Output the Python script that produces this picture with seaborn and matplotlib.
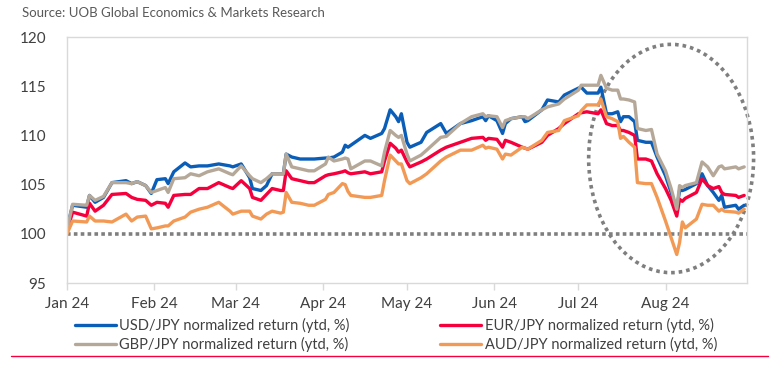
import numpy as np
import pandas as pd
import seaborn as sns
import matplotlib
matplotlib.use("Agg")
import matplotlib.pyplot as plt
import matplotlib.dates as mdates
from matplotlib.patches import Ellipse
from matplotlib.lines import Line2D

# values (normalized, start of year = 100)
dates = [
    "2024-01-01", "2024-01-03", "2024-01-08", "2024-01-09", "2024-01-11", "2024-01-14",
    "2024-01-17", "2024-01-22", "2024-01-24", "2024-01-26", "2024-01-29", "2024-01-31",
    "2024-02-02", "2024-02-05", "2024-02-06", "2024-02-08", "2024-02-12", "2024-02-14",
    "2024-02-17", "2024-02-20", "2024-02-24", "2024-02-28", "2024-02-29",
    "2024-03-03", "2024-03-06", "2024-03-07", "2024-03-10", "2024-03-12", "2024-03-14",
    "2024-03-17", "2024-03-18", "2024-03-19", "2024-03-21", "2024-03-24", "2024-03-27",
    "2024-03-29",
    "2024-04-02", "2024-04-03", "2024-04-05", "2024-04-08", "2024-04-09", "2024-04-10",
    "2024-04-11", "2024-04-16", "2024-04-18", "2024-04-22", "2024-04-23", "2024-04-25",
    "2024-04-27", "2024-04-28", "2024-04-29",
    "2024-05-01", "2024-05-02", "2024-05-06", "2024-05-08", "2024-05-13", "2024-05-15",
    "2024-05-20", "2024-05-24", "2024-05-28", "2024-05-29", "2024-05-30",
    "2024-06-02", "2024-06-04", "2024-06-05", "2024-06-07", "2024-06-11", "2024-06-12",
    "2024-06-13", "2024-06-18", "2024-06-20", "2024-06-24", "2024-06-26",
    "2024-07-01", "2024-07-02", "2024-07-04", "2024-07-08", "2024-07-09", "2024-07-11",
    "2024-07-13", "2024-07-15", "2024-07-16", "2024-07-17", "2024-07-19", "2024-07-21",
    "2024-07-22", "2024-07-25", "2024-07-27", "2024-07-29",
    "2024-08-01", "2024-08-03", "2024-08-05", "2024-08-06", "2024-08-07", "2024-08-08",
    "2024-08-12", "2024-08-14", "2024-08-16", "2024-08-18", "2024-08-20", "2024-08-21",
    "2024-08-22", "2024-08-26", "2024-08-27", "2024-08-29",
]

usd = [
    100.6, 102.9, 102.7, 103.9, 103.2, 103.7, 105.2, 105.4, 105.1, 105.3, 104.9, 104.1,
    105.5, 105.6, 105.1, 106.3, 107.2, 106.8, 106.9, 106.9, 107.1, 106.9, 106.8,
    107.1, 105.7, 104.6, 104.4, 104.9, 106.1, 106.1, 106.1, 108.1, 107.8, 107.6, 107.6,
    107.6,
    107.7, 107.7, 107.8, 108.3, 109.0, 108.8, 109.0, 110.0, 109.7, 110.2, 110.7, 112.6,
    111.9, 111.4, 112.2,
    109.3, 108.8, 109.3, 110.3, 111.2, 110.2, 111.2, 111.5, 111.9, 111.5, 112.0,
    111.5, 110.2, 111.2, 111.7, 111.9, 111.4, 111.5, 112.6, 113.6, 113.4, 114.1,
    114.8, 114.9, 114.3, 114.3, 114.9, 112.2, 112.2, 112.4, 111.4, 111.9, 111.9, 111.4,
    109.5, 109.3, 109.3, 107.8,
    105.9, 104.2, 102.5, 104.4, 104.4, 104.5, 105.1, 106.1, 104.9, 104.2, 103.4, 103.9,
    102.7, 102.9, 102.5, 102.9,
]

eur = [
    100.3, 102.2, 101.8, 103.1, 102.3, 102.9, 104.0, 104.1, 103.7, 103.5, 103.4, 102.9,
    103.2, 103.1, 102.7, 103.9, 104.0, 104.0, 104.6, 104.6, 105.2, 104.7, 104.6,
    105.4, 104.6, 103.7, 103.4, 104.0, 104.6, 104.4, 104.4, 106.4, 105.6, 105.4, 105.2,
    105.2,
    105.9, 106.0, 106.1, 106.3, 106.4, 106.2, 106.1, 106.3, 106.1, 106.3, 107.4, 109.2,
    108.7, 108.3, 108.5,
    107.3, 106.8, 107.3, 107.6, 108.5, 108.8, 109.3, 109.7, 109.8, 109.5, 109.7,
    109.6, 108.8, 109.5, 109.3, 108.8, 108.7, 108.6, 109.3, 110.0, 110.7, 111.2,
    112.2, 112.3, 112.4, 112.2, 112.6, 111.2, 111.0, 111.0, 110.5, 110.5, 110.3, 110.0,
    107.6, 107.6, 107.4, 106.1,
    104.6, 103.4, 101.8, 103.5, 103.3, 103.6, 104.2, 105.6, 104.9, 104.6, 104.8, 104.2,
    104.0, 103.9, 103.7, 103.9,
]

gbp = [
    100.4, 103.0, 102.9, 103.9, 103.4, 103.8, 105.2, 105.2, 105.1, 105.3, 104.9, 104.2,
    104.4, 104.7, 104.2, 105.6, 105.7, 106.1, 105.9, 106.3, 106.6, 106.1, 106.0,
    106.9, 105.9, 105.6, 105.2, 105.6, 106.1, 106.1, 106.1, 108.1, 106.8, 106.6, 106.4,
    106.4,
    107.1, 107.8, 107.4, 107.6, 107.7, 107.6, 106.6, 107.4, 107.4, 106.9, 108.3, 110.5,
    110.0, 109.8, 110.0,
    108.1, 107.4, 108.0, 108.5, 109.8, 109.9, 111.2, 111.9, 112.2, 111.9, 112.0,
    111.9, 110.8, 111.5, 111.7, 111.9, 111.9, 111.7, 112.6, 112.9, 113.2, 113.7,
    114.6, 115.1, 115.1, 115.1, 116.1, 114.8, 114.6, 114.6, 113.7, 113.7, 113.6, 113.4,
    110.7, 110.5, 110.6, 108.1,
    106.4, 104.6, 102.5, 104.9, 104.7, 104.9, 105.2, 107.3, 106.8, 105.9, 106.8, 106.9,
    106.6, 106.8, 106.6, 106.8,
]

aud = [
    100.0, 101.3, 101.2, 101.8, 101.3, 101.3, 101.2, 102.0, 101.3, 101.7, 101.8, 100.5,
    100.6, 100.8, 100.8, 101.3, 101.7, 102.2, 102.5, 102.7, 103.2, 102.3, 102.0,
    102.3, 102.3, 101.8, 101.5, 102.0, 102.3, 102.1, 102.2, 104.2, 103.2, 103.1, 102.9,
    102.9,
    103.5, 104.0, 104.2, 105.1, 105.0, 104.3, 103.9, 103.7, 103.7, 103.9, 105.4, 108.0,
    107.4, 107.1, 107.1,
    105.4, 105.1, 105.7, 106.1, 107.4, 107.8, 108.5, 108.5, 109.0, 108.7, 108.8,
    108.6, 107.6, 108.1, 108.0, 108.8, 108.7, 108.6, 109.5, 110.3, 110.5, 111.5,
    112.0, 112.5, 113.1, 113.1, 113.7, 111.9, 111.7, 111.4, 109.7, 109.9, 109.3, 108.8,
    105.2, 105.1, 105.1, 103.7,
    101.3, 99.6, 97.9, 99.1, 101.2, 100.6, 101.5, 103.0, 102.9, 102.9, 102.3, 102.5,
    102.3, 102.2, 102.1, 102.5,
]

labels = [
    "USD/JPY normalized return (ytd, %)",
    "EUR/JPY normalized return (ytd, %)",
    "GBP/JPY normalized return (ytd, %)",
    "AUD/JPY normalized return (ytd, %)",
]
colors = ["#0A5EB8", "#F5003C", "#B5A898", "#F29A55"]

df = pd.DataFrame({"date": pd.to_datetime(dates)})
for lab, vals in zip(labels, [usd, eur, gbp, aud]):
    df[lab] = vals
long = df.melt(id_vars="date", var_name="series", value_name="value")

sns.set_theme(style="white")
plt.rcParams["font.family"] = ["Lato", "DejaVu Sans"]

fig = plt.figure(figsize=(7.84, 3.72), dpi=100)
ax = fig.add_axes([67 / 784, 89 / 372, 680 / 784, 246 / 372])

sns.lineplot(data=long, x="date", y="value", hue="series", hue_order=labels,
             palette=dict(zip(labels, colors)), linewidth=2.4, ax=ax)

# base line at 100
ax.axhline(100, color="#7F7F7F", linewidth=2.6, linestyle=(0, (1, 0.9)), zorder=1)

# highlight ellipse around the August sell-off
cx = mdates.date2num(pd.Timestamp("2024-08-03"))
ell = Ellipse((cx, 107.65), width=58.7, height=23.2, fill=False,
              edgecolor="#7F7F7F", linewidth=2.6, linestyle=(0, (1, 1.1)), clip_on=False)
ax.add_patch(ell)

ax.set_xlim(pd.Timestamp("2024-01-01"), pd.Timestamp("2024-08-30"))
ax.set_ylim(95, 120)
ax.set_yticks([95, 100, 105, 110, 115, 120])
ax.xaxis.set_major_locator(mdates.MonthLocator())
ax.xaxis.set_major_formatter(mdates.DateFormatter("%b %y"))
ax.set_xlabel("")
ax.set_ylabel("")
ax.tick_params(axis="x", length=5, width=1, color="#D9D9D9", labelsize=11,
               labelcolor="#404040", pad=5, bottom=True)
ax.tick_params(axis="y", length=0, labelsize=11, labelcolor="#404040", pad=15)
for s in ax.spines.values():
    s.set_color("#D9D9D9")
    s.set_linewidth(1)

handles, labs = ax.get_legend_handles_labels()
order = [0, 2, 1, 3]
ax.legend([handles[i] for i in order], [labs[i] for i in order],
          loc="center", bbox_to_anchor=(0.505, 1 - 335 / 372),
          bbox_transform=fig.transFigure, ncol=2, frameon=False,
          fontsize=10.5, handlelength=2.8, handletextpad=0.25,
          columnspacing=6.2, labelspacing=0.3, labelcolor="#404040")

fig.text(22 / 784, 1 - 13 / 372, "Source: UOB Global Economics & Markets Research",
         fontsize=9.5, color="#595959", va="center", ha="left")
fig.add_artist(Line2D([11 / 784, 768 / 784], [1 - 356 / 372] * 2,
                      transform=fig.transFigure, color="#F5003C", linewidth=1))

fig.savefig("out.png", dpi=100)
